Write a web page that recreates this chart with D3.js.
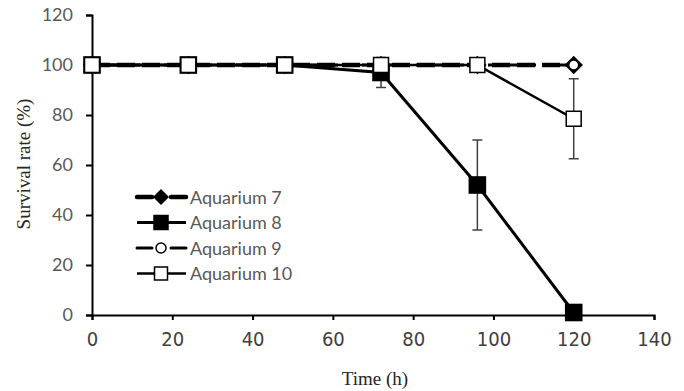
<!DOCTYPE html>
<html>
<head>
<meta charset="utf-8">
<script src="https://cdn.jsdelivr.net/npm/d3@7"></script>
<style>
  body { margin: 0; background: #fff; }
  svg { display: block; }
</style>
</head>
<body>
<div id="chart"></div>
<script>
var width = 684,
    height = 391;

// chart data
var hours = [0, 24, 48, 72, 96, 120];
var aquarium7 = [100, 100, 100, 100, 100, 100];
var aquarium8 = [100, 100, 100, 97, 52, 1];
var aquarium8Err = [0, 0, 0, 6, 18, 0];
var aquarium9 = [100, 100, 100, 100, 100, 100];
var aquarium10 = [100, 100, 100, 100, 100, 78.5];
var aquarium10Err = [0, 0, 0, 0, 0, 16];
var xTicks = [0, 20, 40, 60, 80, 100, 120, 140];
var yTicks = [0, 20, 40, 60, 80, 100, 120];

var series = [
    { name: "Aquarium 7", values: aquarium7, err: null, marker: "diamond", fill: "#000", dash: "18,7", legendOffset: 2, width: 4.5 },
    { name: "Aquarium 8", values: aquarium8, err: aquarium8Err, marker: "square", fill: "#000", dash: null, legendOffset: 0, width: 3 },
    { name: "Aquarium 9", values: aquarium9, err: null, marker: "circle", fill: "#fff", dash: "12,6", legendOffset: 0, width: 3 },
    { name: "Aquarium 10", values: aquarium10, err: aquarium10Err, marker: "square", fill: "#fff", dash: null, legendOffset: 0, width: 2.5 }
];

var margin = { left: 92, right: 30, top: 15, bottom: 76 };

var x = d3.scaleLinear().domain([0, 140]).range([margin.left, width - margin.right]);
var y = d3.scaleLinear().domain([0, 120]).range([height - margin.bottom, margin.top]);

var svg = d3.select("#chart").append("svg")
            .attr("width", width)
            .attr("height", height);

// axes
var xAxis = svg.append("g")
    .attr("transform", "translate(0," + y(0) + ")")
    .call(d3.axisBottom(x).tickValues(xTicks).tickSize(5).tickPadding(12));
var yAxis = svg.append("g")
    .attr("transform", "translate(" + x(0) + ",0)")
    .call(d3.axisLeft(y).tickValues(yTicks).tickSize(6).tickPadding(13));

[xAxis, yAxis].forEach(function(g) {
    g.select(".domain").attr("stroke", "#000").attr("stroke-width", 2);
    g.selectAll(".tick line").attr("stroke", "#000").attr("stroke-width", 2);
});
xAxis.selectAll(".tick text")
    .style("font-family", "'Liberation Sans Narrow', 'DejaVu Sans Condensed', sans-serif")
    .style("font-size", "20px")
    .attr("fill", "#404040");
yAxis.selectAll(".tick text")
    .style("font-family", "Lato, 'Open Sans', sans-serif")
    .style("font-size", "18px")
    .attr("fill", "#595959");

// axis titles
svg.append("text")
    .attr("x", (x(0) + x(140)) / 2 + 2)
    .attr("y", 385)
    .attr("text-anchor", "middle")
    .style("font-family", "'Liberation Serif', 'DejaVu Serif', serif")
    .style("font-size", "19px")
    .attr("fill", "#262626")
    .text("Time (h)");

svg.append("text")
    .attr("transform", "translate(30,164) rotate(-90)")
    .attr("text-anchor", "middle")
    .style("font-family", "'Liberation Serif', 'DejaVu Serif', serif")
    .style("font-size", "19px")
    .attr("fill", "#262626")
    .text("Survival rate (%)");

var line = d3.line()
    .x(function(d) { return x(d[0]); })
    .y(function(d) { return y(d[1]); });

function drawMarker(g, type, fill, cx, cy, big) {
    var s = big ? 1.15 : 1;
    if (type === "square") {
        var h = (fill === "#000" ? 7 : 6.5) * s;
        g.append("rect")
            .attr("x", cx - h).attr("y", cy - h)
            .attr("width", 2 * h).attr("height", 2 * h)
            .attr("fill", fill).attr("stroke", "#000").attr("stroke-width", 1.5);
    } else if (type === "diamond") {
        var r = 8 * s;
        g.append("path")
            .attr("d", "M" + cx + "," + (cy - r) + "L" + (cx + r) + "," + cy + "L" + cx + "," + (cy + r) + "L" + (cx - r) + "," + cy + "Z")
            .attr("fill", fill);
    } else {
        g.append("circle")
            .attr("cx", cx).attr("cy", cy).attr("r", 5)
            .attr("fill", fill).attr("stroke", "#000").attr("stroke-width", 1.5);
    }
}

// series
series.forEach(function(s) {
    var pts = hours.map(function(h, i) { return [h, s.values[i]]; });
    var g = svg.append("g");

    g.append("path")
        .datum(pts)
        .attr("d", line)
        .attr("fill", "none")
        .attr("stroke", "#000")
        .attr("stroke-width", s.width)
        .attr("stroke-dasharray", s.dash);

    if (s.err) {
        hours.forEach(function(h, i) {
            if (!s.err[i]) return;
            var cx = x(h);
            var eb = g.append("g").attr("stroke", "#404040").attr("stroke-width", 1.5);
            eb.append("line").attr("x1", cx).attr("x2", cx)
                .attr("y1", y(s.values[i] + s.err[i])).attr("y2", y(s.values[i] - s.err[i]));
            eb.append("line").attr("x1", cx - 5).attr("x2", cx + 5)
                .attr("y1", y(s.values[i] + s.err[i])).attr("y2", y(s.values[i] + s.err[i]));
            eb.append("line").attr("x1", cx - 5).attr("x2", cx + 5)
                .attr("y1", y(s.values[i] - s.err[i])).attr("y2", y(s.values[i] - s.err[i]));
        });
    }

    pts.forEach(function(p) {
        drawMarker(g, s.marker, s.fill, x(p[0]), y(p[1]), true);
    });
});

// legend
var legend = svg.append("g");
series.forEach(function(s, i) {
    var ly = 197 + i * 25.5;
    if (s.dash) {
        // two short dashes either side of the marker, as in the original key
        [[137, 152], [171, 186]].forEach(function(seg) {
            legend.append("line")
                .attr("x1", seg[0]).attr("x2", seg[1])
                .attr("y1", ly).attr("y2", ly)
                .attr("stroke", "#000")
                .attr("stroke-width", s.width)
                .attr("stroke-linecap", "round");
        });
    } else {
        legend.append("line")
            .attr("x1", 137).attr("x2", 186)
            .attr("y1", ly).attr("y2", ly)
            .attr("stroke", "#000")
            .attr("stroke-width", s.width);
    }
    drawMarker(legend, s.marker, s.fill, 161, ly, false);
    legend.append("text")
        .attr("x", 190).attr("y", ly + 6.5)
        .style("font-family", "Lato, 'Open Sans', sans-serif")
        .style("font-size", "18px")
        .attr("fill", "#595959")
        .text(s.name);
});
</script>
</body>
</html>
